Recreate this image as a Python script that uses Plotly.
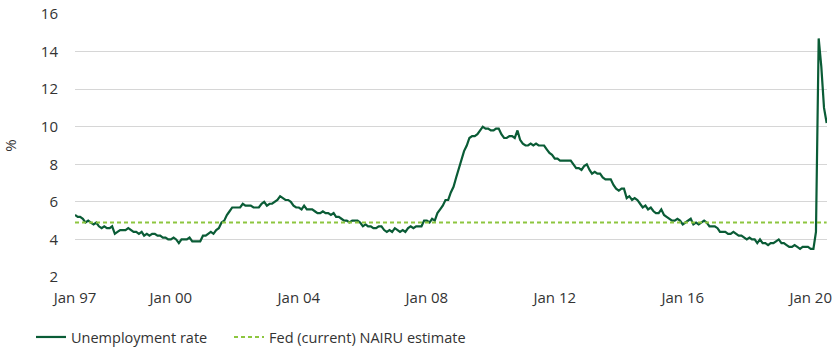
import plotly.graph_objects as go
import pandas as pd

# Monthly unemployment rate (%), Jan 1997 - Jul 2020
rate_1997 = [5.3, 5.2, 5.2, 5.1, 4.9, 5.0, 4.9, 4.8, 4.9, 4.7, 4.6, 4.7]
rate_1998 = [4.6, 4.6, 4.7, 4.3, 4.4, 4.5, 4.5, 4.5, 4.6, 4.5, 4.4, 4.4]
rate_1999 = [4.3, 4.4, 4.2, 4.3, 4.2, 4.3, 4.3, 4.2, 4.2, 4.1, 4.1, 4.0]
rate_2000 = [4.0, 4.1, 4.0, 3.8, 4.0, 4.0, 4.0, 4.1, 3.9, 3.9, 3.9, 3.9]
rate_2001 = [4.2, 4.2, 4.3, 4.4, 4.3, 4.5, 4.6, 4.9, 5.0, 5.3, 5.5, 5.7]
rate_2002 = [5.7, 5.7, 5.7, 5.9, 5.8, 5.8, 5.8, 5.7, 5.7, 5.7, 5.9, 6.0]
rate_2003 = [5.8, 5.9, 5.9, 6.0, 6.1, 6.3, 6.2, 6.1, 6.1, 6.0, 5.8, 5.7]
rate_2004 = [5.7, 5.6, 5.8, 5.6, 5.6, 5.6, 5.5, 5.4, 5.4, 5.5, 5.4, 5.4]
rate_2005 = [5.3, 5.4, 5.2, 5.2, 5.1, 5.0, 5.0, 4.9, 5.0, 5.0, 5.0, 4.9]
rate_2006 = [4.7, 4.8, 4.7, 4.7, 4.6, 4.6, 4.7, 4.7, 4.5, 4.4, 4.5, 4.4]
rate_2007 = [4.6, 4.5, 4.4, 4.5, 4.4, 4.6, 4.7, 4.6, 4.7, 4.7, 4.7, 5.0]
rate_2008 = [5.0, 4.9, 5.1, 5.0, 5.4, 5.6, 5.8, 6.1, 6.1, 6.5, 6.8, 7.3]
rate_2009 = [7.8, 8.3, 8.7, 9.0, 9.4, 9.5, 9.5, 9.6, 9.8, 10.0, 9.9, 9.9]
rate_2010 = [9.8, 9.8, 9.9, 9.9, 9.6, 9.4, 9.4, 9.5, 9.5, 9.4, 9.8, 9.3]
rate_2011 = [9.1, 9.0, 9.0, 9.1, 9.0, 9.1, 9.0, 9.0, 9.0, 8.8, 8.6, 8.5]
rate_2012 = [8.3, 8.3, 8.2, 8.2, 8.2, 8.2, 8.2, 8.0, 7.8, 7.8, 7.7, 7.9]
rate_2013 = [8.0, 7.7, 7.5, 7.6, 7.5, 7.5, 7.3, 7.2, 7.2, 7.2, 6.9, 6.7]
rate_2014 = [6.6, 6.7, 6.7, 6.2, 6.3, 6.1, 6.2, 6.1, 5.9, 5.7, 5.8, 5.6]
rate_2015 = [5.7, 5.5, 5.4, 5.4, 5.6, 5.3, 5.2, 5.1, 5.0, 5.0, 5.1, 5.0]
rate_2016 = [4.8, 4.9, 5.0, 5.1, 4.8, 4.9, 4.8, 4.9, 5.0, 4.9, 4.7, 4.7]
rate_2017 = [4.7, 4.6, 4.4, 4.4, 4.4, 4.3, 4.3, 4.4, 4.3, 4.2, 4.2, 4.1]
rate_2018 = [4.0, 4.1, 4.0, 4.0, 3.8, 4.0, 3.8, 3.8, 3.7, 3.8, 3.8, 3.9]
rate_2019 = [4.0, 3.8, 3.8, 3.7, 3.6, 3.6, 3.7, 3.6, 3.5, 3.6, 3.6, 3.6]
rate_2020 = [3.5, 3.5, 4.4, 14.7, 13.2, 11.0, 10.2]

unemployment = (rate_1997 + rate_1998 + rate_1999 + rate_2000 + rate_2001 + rate_2002
                + rate_2003 + rate_2004 + rate_2005 + rate_2006 + rate_2007 + rate_2008
                + rate_2009 + rate_2010 + rate_2011 + rate_2012 + rate_2013 + rate_2014
                + rate_2015 + rate_2016 + rate_2017 + rate_2018 + rate_2019 + rate_2020)
months = pd.date_range("1997-01-01", periods=len(unemployment), freq="MS")

nairu_dates = ["1997-01-01", "2020-07-01"]
nairu_values = [4.9, 4.9]

tick_dates = ["1997-01-01", "2000-01-01", "2004-01-01", "2008-01-01",
              "2012-01-01", "2016-01-01", "2020-01-01"]
tick_labels = ["Jan 97", "Jan 00", "Jan 04", "Jan 08", "Jan 12", "Jan 16", "Jan 20"]
y_ticks = [2, 4, 6, 8, 10, 12, 14, 16]

FONT = "Open Sans"
TXT = "#333333"

fig = go.Figure()
fig.add_trace(go.Scatter(
    x=months, y=unemployment, mode="lines", name="Unemployment rate",
    line=dict(color="#0a5c36", width=2.2), legend="legend",
))
fig.add_trace(go.Scatter(
    x=nairu_dates, y=nairu_values, mode="lines", name="Fed (current) NAIRU estimate",
    line=dict(color="#8dc63f", width=2, dash="4px,3px"), legend="legend2",
))

legend_common = dict(orientation="h", xref="container", yref="container",
                     xanchor="left", yanchor="middle", y=0.037,
                     font=dict(family=FONT, size=14.5, color=TXT),
                     itemwidth=30, bgcolor="rgba(0,0,0,0)")

fig.update_layout(
    width=840, height=350,
    margin=dict(l=75, r=13, t=14, b=73, autoexpand=False),
    paper_bgcolor="white", plot_bgcolor="white",
    font=dict(family=FONT, size=15, color=TXT),
    showlegend=True,
    legend=dict(x=31 / 840, **legend_common),
    legend2=dict(x=229 / 840, **legend_common),
    xaxis=dict(
        range=["1997-01-01", "2020-07-05"],
        tickmode="array", tickvals=tick_dates, ticktext=tick_labels,
        showgrid=False, zeroline=False, showline=False, ticks="",
        ticklabelstandoff=10, automargin=False,
        tickfont=dict(family=FONT, size=15, color=TXT),
    ),
    yaxis=dict(
        range=[2, 16], tickvals=y_ticks,
        showgrid=True, gridcolor="#d6d6d6", gridwidth=1,
        zeroline=False, showline=False, ticks="",
        ticklabelstandoff=16, automargin=False,
        tickfont=dict(family=FONT, size=15, color=TXT),
        title=dict(text="%", font=dict(family=FONT, size=15, color=TXT), standoff=30),
    ),
)

fig.write_html("out.html")
